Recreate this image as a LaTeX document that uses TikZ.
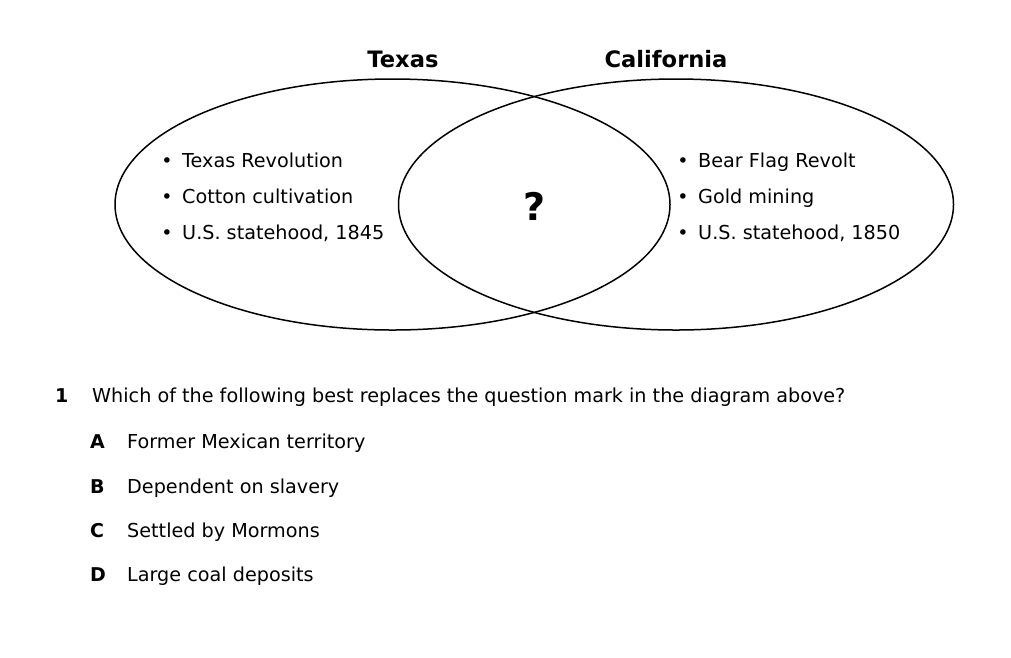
\documentclass[tikz,border=0pt]{standalone}
\usepackage{fontspec}
\setmainfont{DejaVu Sans}
\usetikzlibrary{shapes.geometric}
\begin{document}
\begin{tikzpicture}[x=1pt,y=-1pt,
  setshape/.style={draw, ellipse, line width=1.5pt, minimum width=555pt, minimum height=251pt, inner sep=0pt},
  settitle/.style={anchor=base, font=\fontsize{22.6}{26}\selectfont\bfseries, inner sep=0pt},
  item/.style={anchor=base west, font=\fontsize{19.2}{23}\selectfont, inner sep=0pt},
  dot/.style={anchor=base, font=\fontsize{19}{23}\selectfont, inner sep=0pt},
  qnum/.style={anchor=base west, font=\fontsize{19}{23}\selectfont\bfseries, inner sep=0pt}]
\useasboundingbox[fill=white] (0,0) rectangle (1011,657);

% the two overlapping sets
\node[setshape] (texasSet) at (392.5,204.5) {};
\node[setshape] (caliSet) at (676,204.5) {};

% set titles
\node[settitle] (texasTitle) at (403,67) {Texas};
\node[settitle] (caliTitle) at (666,67) {California};

% Texas items
\node[dot] (tb1) at (167,167) {•};
\node[dot] (tb2) at (167,203) {•};
\node[dot] (tb3) at (167,239) {•};
\node[item] (t1) at (182,167) {Texas Revolution};
\node[item] (t2) at (182,203) {Cotton cultivation};
\node[item] (t3) at (182,239) {U.S. statehood, 1845};

% California items
\node[dot] (cb1) at (683,167) {•};
\node[dot] (cb2) at (683,203) {•};
\node[dot] (cb3) at (683,239) {•};
\node[item] (c1) at (698,167) {Bear Flag Revolt};
\node[item] (c2) at (698,203) {Gold mining};
\node[item] (c3) at (698,239) {U.S. statehood, 1850};

% overlap
\node[anchor=base, font=\fontsize{38}{44}\selectfont\bfseries, inner sep=0pt] (mystery) at (535,220) {?};

% question and answer choices
\node[qnum] (qn) at (55,402) {1};
\node[item] (qt) at (92,402) {Which of the following best replaces the question mark in the diagram above?};
\node[qnum] (la) at (90,448) {A};
\node[item] (oa) at (127,448) {Former Mexican territory};
\node[qnum] (lb) at (90,493) {B};
\node[item] (ob) at (127,493) {Dependent on slavery};
\node[qnum] (lc) at (90,537) {C};
\node[item] (oc) at (127,537) {Settled by Mormons};
\node[qnum] (ld) at (90,581) {D};
\node[item] (od) at (127,581) {Large coal deposits};
\end{tikzpicture}
\end{document}
